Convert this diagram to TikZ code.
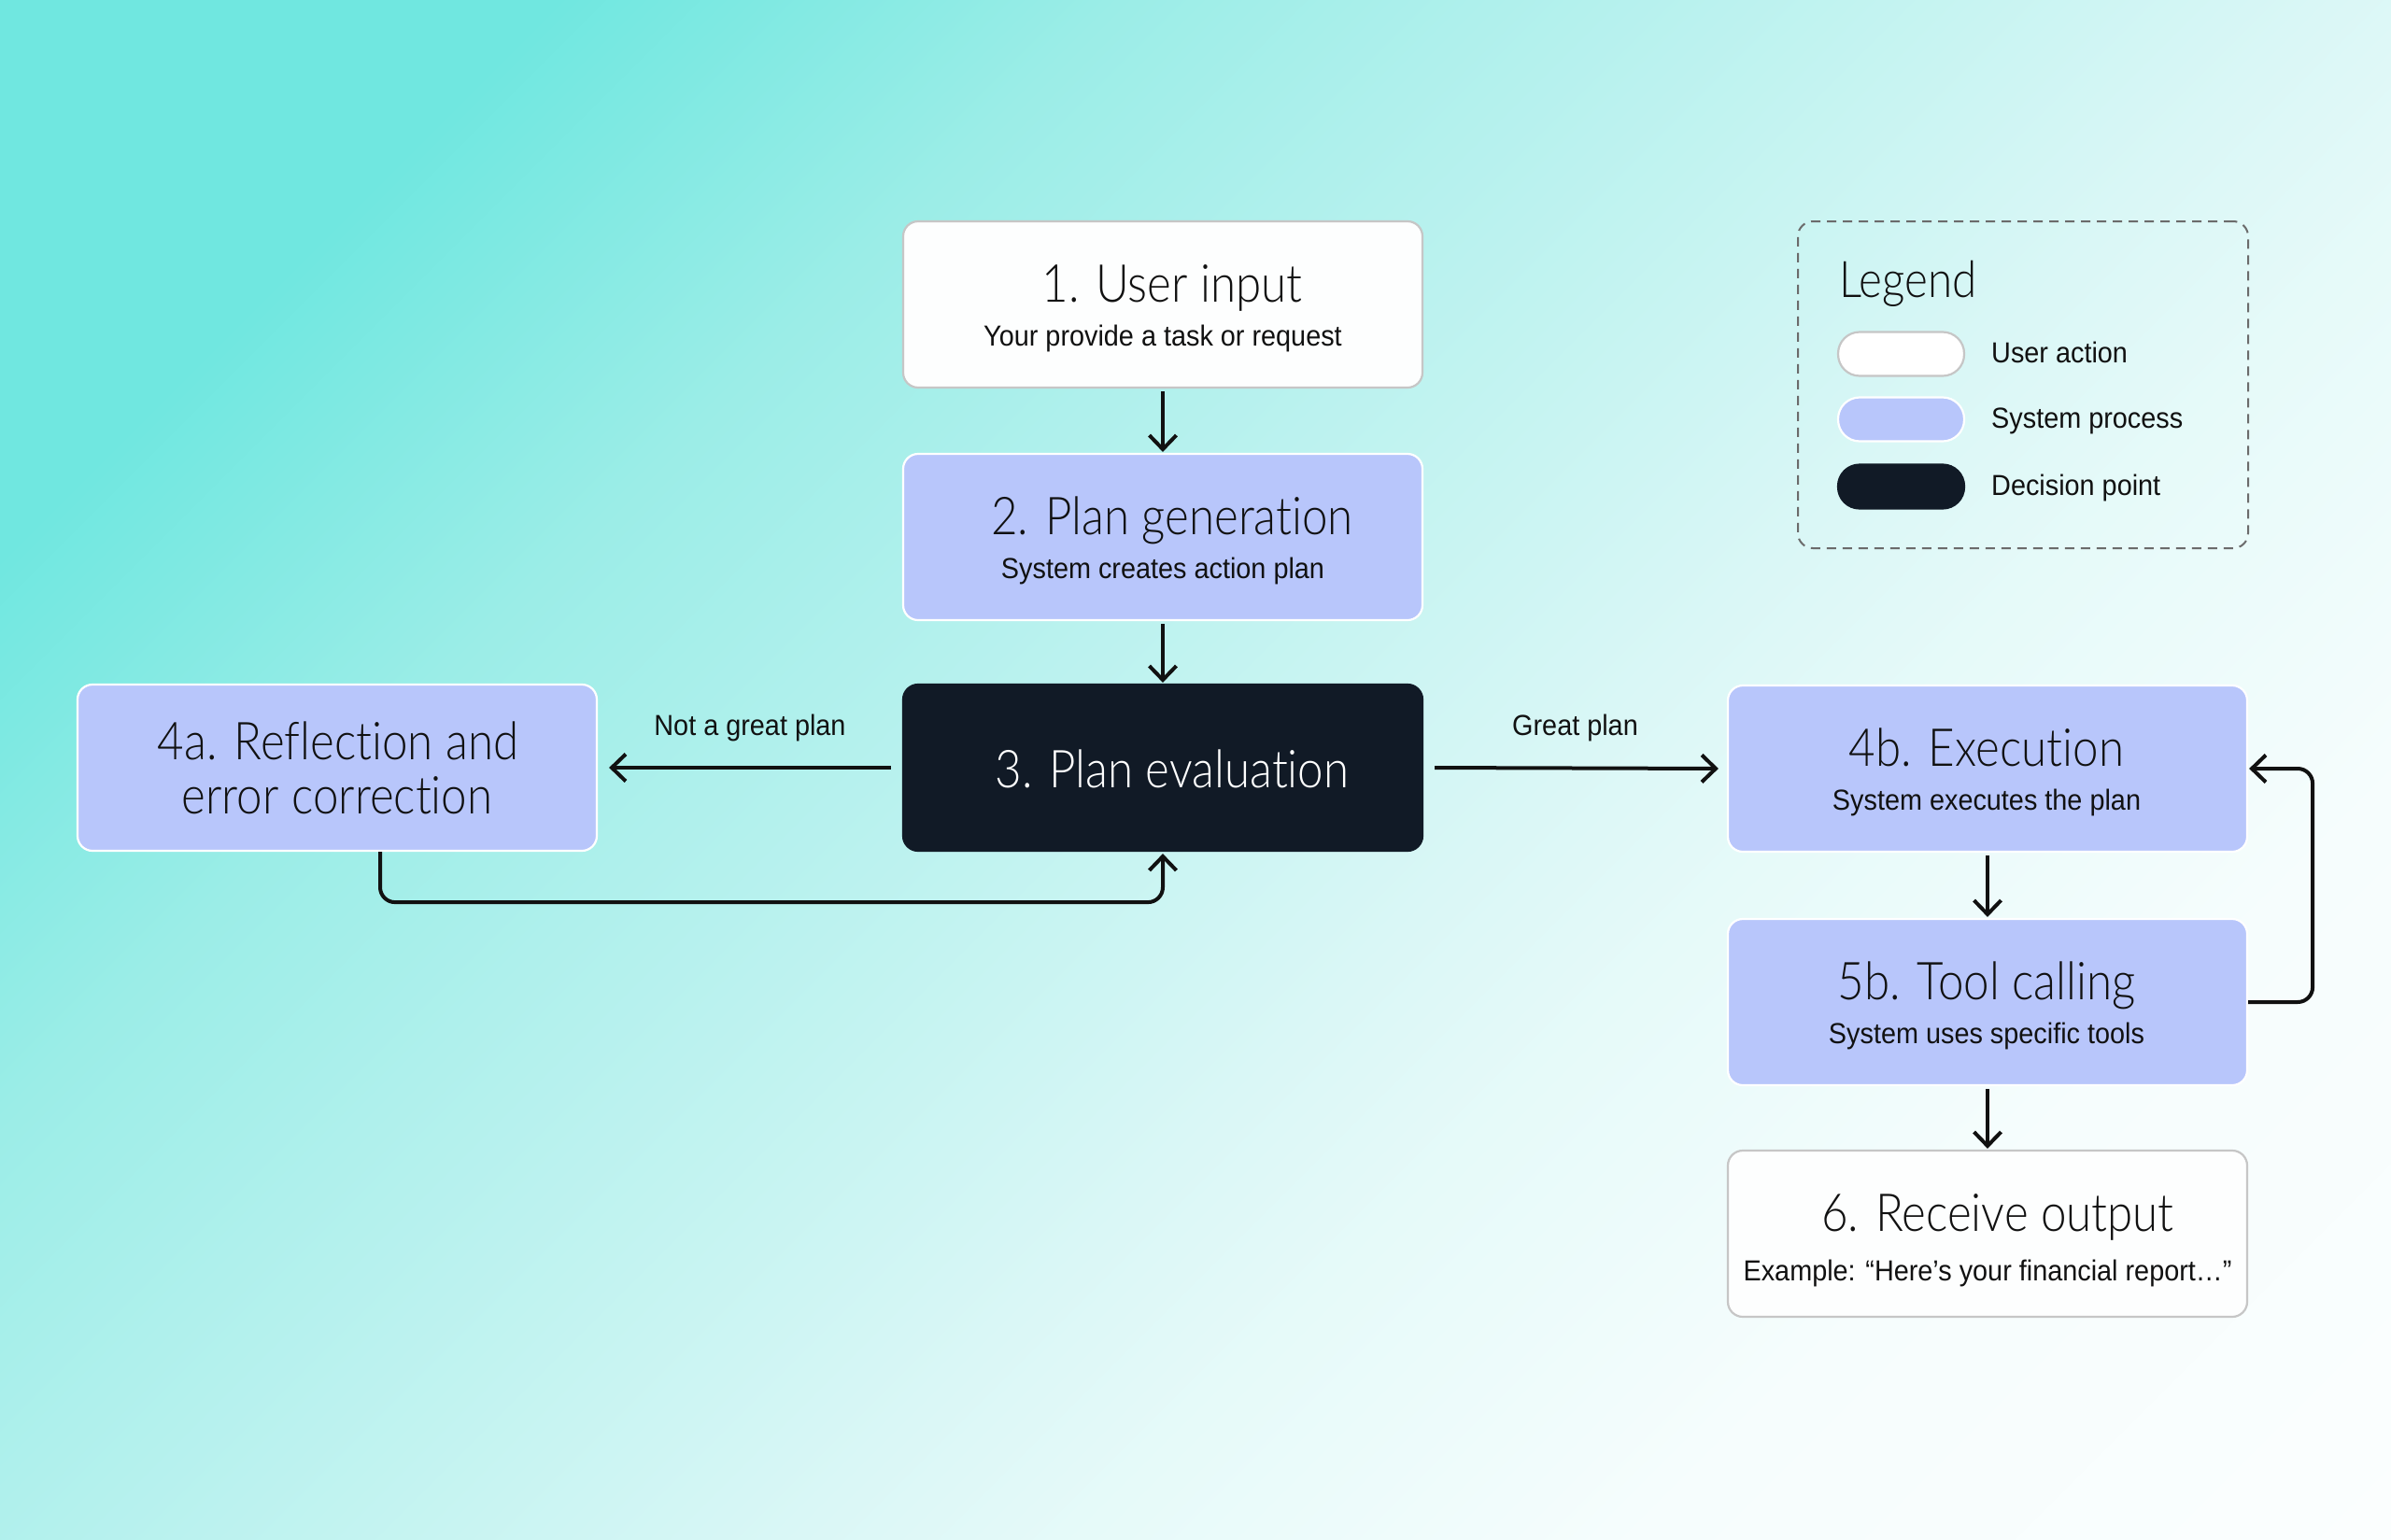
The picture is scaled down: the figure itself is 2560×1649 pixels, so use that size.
\documentclass[tikz,border=0pt]{standalone}
\usepackage{fontspec}
\setmainfont{Liberation Sans}
\IfFontExistsTF{Lato Light}
  {\newfontfamily\ttlfont[FakeStretch=0.88,Ligatures={NoCommon,NoRare,NoDiscretionary}]{Lato Light}}
  {\newfontfamily\ttlfont[FakeStretch=0.86]{Liberation Sans}}
\newfontfamily\subfnt[FakeStretch=0.93]{Liberation Sans}
\usetikzlibrary{arrows.meta,calc}

\definecolor{bgA}{HTML}{70E7E0}
\definecolor{bgB}{HTML}{7EE9E2}
\definecolor{bgC}{HTML}{9BEDE7}
\definecolor{bgD}{HTML}{AFF0EC}
\definecolor{bgE}{HTML}{DAF7F6}
\definecolor{bgF}{HTML}{E6FAF9}
\definecolor{bgG}{HTML}{F6FDFD}
\definecolor{bgH}{HTML}{FBFEFE}
\definecolor{sysblue}{HTML}{B8C6FB}
\definecolor{decdark}{HTML}{111A26}
\definecolor{userfill}{HTML}{FDFEFE}
\definecolor{userline}{HTML}{C6C6C6}
\definecolor{inkc}{HTML}{111111}
\definecolor{dashc}{HTML}{6B6B6B}

\pgfdeclarehorizontalshading{bgsh}{100bp}{color(0bp)=(bgA); color(32.1bp)=(bgA); color(34.5bp)=(bgB); color(39.25bp)=(bgC); color(44bp)=(bgD); color(54.7bp)=(bgE); color(58.3bp)=(bgF); color(65.4bp)=(bgG); color(75bp)=(bgH); color(100bp)=(bgH)}

\tikzset{
  box/.style={rectangle, rounded corners=16pt, minimum width=556pt, minimum height=178pt, inner sep=0pt, line width=2.2pt},
  userbox/.style={box, fill=userfill, draw=userline},
  sysbox/.style={box, fill=sysblue, draw=white},
  decbox/.style={box, fill=decdark, draw=decdark},
  ttl/.style={inner sep=0pt, anchor=base, text=inkc, font=\ttlfont\fontsize{56}{60}\selectfont},
  subt/.style={inner sep=0pt, anchor=base, text=inkc, font=\subfnt\fontsize{31}{36}\selectfont},
  lbl/.style={inner sep=0pt, anchor=base, text=inkc, font=\subfnt\fontsize{31}{36}\selectfont},
  pill/.style={rectangle, rounded corners=23pt, minimum width=135pt, minimum height=47pt, inner sep=0pt, line width=2.2pt},
  arr/.style={draw=inkc, line width=4pt, -{Straight Barb[length=15pt,width=29pt]}},
}

\begin{document}
\begin{tikzpicture}[x=1pt,y=-1pt]
\useasboundingbox (0,0) rectangle (2560,1649);
\begin{scope}
  \clip (0,0) rectangle (2560,1649);
  \shade[shading=bgsh, transform canvas={rotate=-45}] (0pt,-1200pt) rectangle (2976.5pt,1830pt);
\end{scope}

% boxes
\node[userbox] (n1) at (1245,326) {};
\node[sysbox]  (n2) at (1245,575) {};
\node[decbox]  (n3) at (1245,822) {};
\node[sysbox]  (n4a) at (361,822) {};
\node[sysbox]  (n4b) at (2128,823) {};
\node[sysbox]  (n5b) at (2128,1073) {};
\node[userbox] (n6) at (2128,1321) {};

% texts
\node[ttl] (t1) at (1255,323) {1. User input};
\node[subt] (s1) at (1245,370) {Your provide a task or request};
\node[ttl] (t2) at (1255,572) {2. Plan generation};
\node[subt] (s2) at (1245,619) {System creates action plan};
\node[ttl, text=white] (t3) at (1255,843) {3. Plan evaluation};
\node[ttl] (t4a) at (362,813) {4a. Reflection and};
\node[ttl] (t4a2) at (361,871) {error correction};
\node[ttl] (t4b) at (2127,820) {4b. Execution};
\node[subt] (s4b) at (2127,867) {System executes the plan};
\node[ttl] (t5b) at (2127,1070) {5b. Tool calling};
\node[subt] (s5b) at (2127,1117) {System uses specific tools};
\node[ttl] (t6) at (2139,1318) {6. Receive output};
\node[subt] (s6) at (2128,1371) {Example: “Here’s your financial report…”};

% connectors
\draw[arr, shorten <=3pt, shorten >=1pt] (n1.south) -- (n2.north);
\draw[arr, shorten <=3pt, shorten >=1pt] (n2.south) -- (n3.north);
\draw[arr, shorten <=12pt, shorten >=12pt] (n3.west) -- node[lbl, pos=0.5, yshift=35pt] (l1) {Not a great plan} (n4a.east);
\draw[arr, shorten <=12pt, shorten >=9pt] (n3.east) -- node[lbl, pos=0.5, yshift=35pt] (l2) {Great plan} (n4b.west);
\draw[arr, rounded corners=16pt, shorten >=2pt] ([xshift=46pt]n4a.south) -- ([xshift=46pt,yshift=-54pt]n4a.south) -| (n3.south);
\draw[arr, shorten <=3pt, shorten >=1pt] (n4b.south) -- (n5b.north);
\draw[arr, shorten <=3pt, shorten >=1pt] (n5b.south) -- (n6.north);
\draw[arr, rounded corners=16pt, shorten >=1pt] (n5b.east) -- ++(69,0) |- (n4b.east);

% legend
\node[rectangle, draw=dashc, dash pattern=on 10pt off 7pt, line width=2pt, rounded corners=16pt, minimum width=482pt, minimum height=350pt] (leg) at (2166,412) {};
\node[inner sep=0pt, anchor=base west, text=inkc, font=\ttlfont\fontsize{54}{58}\selectfont] (legt) at (1969,318) {Legend};
\node[pill, fill=white, draw=userline] (sw1) at (2035.5,379) {};
\node[pill, fill=sysblue, draw=white] (sw2) at (2035.5,449) {};
\node[pill, fill=decdark, draw=decdark] (sw3) at (2035.5,521) {};
\node[lbl, anchor=base west] (lg1) at (2132,388) {User action};
\node[lbl, anchor=base west] (lg2) at (2132,458) {System process};
\node[lbl, anchor=base west] (lg3) at (2132,530) {Decision point};
\end{tikzpicture}
\end{document}
